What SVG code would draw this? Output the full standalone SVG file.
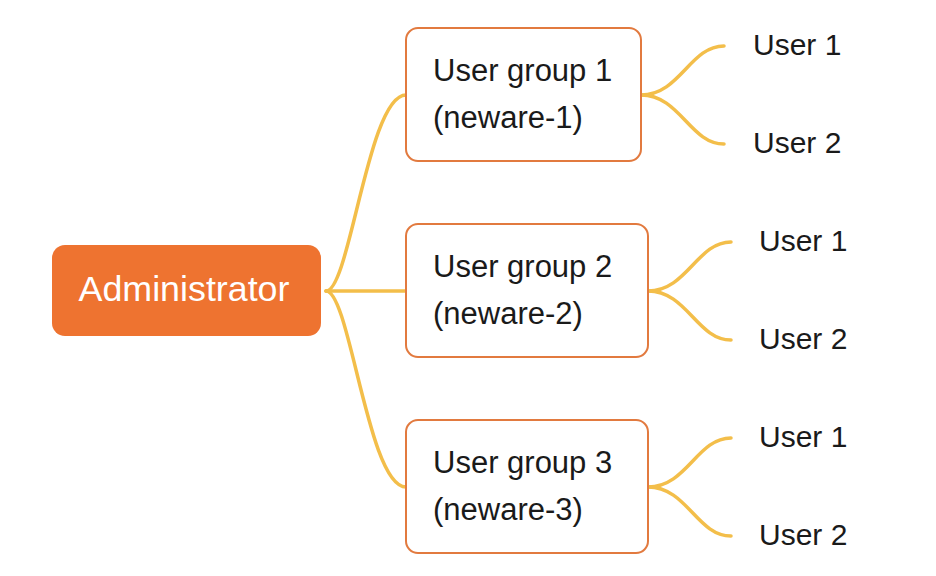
<svg xmlns="http://www.w3.org/2000/svg" width="936" height="576" viewBox="0 0 936 576">
<style>
.bg{fill:#ffffff}
.admin{fill:#EE7330}
.grp{fill:#ffffff;stroke:#E27A3F;stroke-width:2}
.t{font-family:"Liberation Sans",Arial,sans-serif;fill:#1a1a1a}
.ta{font-family:"Liberation Sans",Arial,sans-serif;fill:#ffffff;font-size:35.8px}
.tg{font-size:31px}
.tu{font-size:30px}
.c{fill:none;stroke:#F3BE4A;stroke-width:3.5;stroke-linecap:round}
</style>
<rect class="bg" x="0" y="0" width="936" height="576"/>
<g id="connectors">
<path class="c" d="M326,291 C350,291 368,95 406,95"/>
<path class="c" d="M326,291 L406,291"/>
<path class="c" d="M326,291 C350,291 368,487 406,487"/>
<path class="c" d="M641,95 C680,95 690,46 724,46"/>
<path class="c" d="M641,95 C680,95 690,144 724,144"/>
<path class="c" d="M648,291 C687,291 697,242 731,242"/>
<path class="c" d="M648,291 C687,291 697,340 731,340"/>
<path class="c" d="M648,487 C687,487 697,438 731,438"/>
<path class="c" d="M648,487 C687,487 697,536 731,536"/>
</g>
<g id="admin">
<rect class="admin" x="52" y="245" width="269" height="91" rx="13"/>
<text class="ta" x="184" y="301" text-anchor="middle">Administrator</text>
</g>
<g id="group1">
<rect class="grp" x="406" y="28" width="235" height="133" rx="12"/>
<text class="t tg" x="433" y="81">User group 1</text>
<text class="t tg" x="433" y="128">(neware-1)</text>
</g>
<g id="group2">
<rect class="grp" x="406" y="224" width="242" height="133" rx="12"/>
<text class="t tg" x="433" y="277">User group 2</text>
<text class="t tg" x="433" y="324">(neware-2)</text>
</g>
<g id="group3">
<rect class="grp" x="406" y="420" width="242" height="133" rx="12"/>
<text class="t tg" x="433" y="473">User group 3</text>
<text class="t tg" x="433" y="520">(neware-3)</text>
</g>
<g id="g1u1"><text class="t tu" x="753" y="55">User 1</text></g>
<g id="g1u2"><text class="t tu" x="753" y="153">User 2</text></g>
<g id="g2u1"><text class="t tu" x="759" y="251">User 1</text></g>
<g id="g2u2"><text class="t tu" x="759" y="349">User 2</text></g>
<g id="g3u1"><text class="t tu" x="759" y="447">User 1</text></g>
<g id="g3u2"><text class="t tu" x="759" y="545">User 2</text></g>
</svg>
